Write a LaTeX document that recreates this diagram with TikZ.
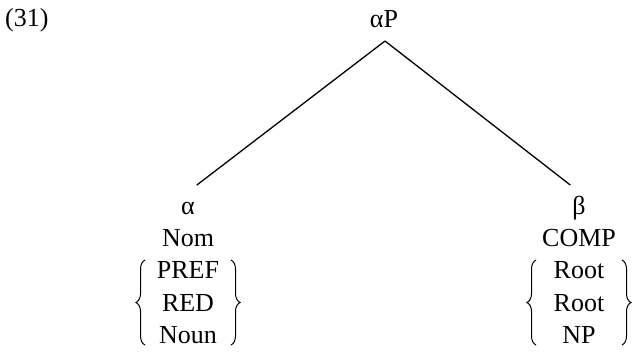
\documentclass[tikz,border=0pt]{standalone}
\usepackage{fontspec}
\setmainfont{Liberation Serif}
\usetikzlibrary{positioning, decorations.pathreplacing}

\begin{document}
\begin{tikzpicture}[
    x=1pt, y=-1pt,
    font=\fontsize{26}{31}\selectfont,
    lbl/.style={inner sep=0pt, anchor=base},
    row/.style={inner sep=0pt, text height=22pt, text depth=10pt},
    branch/.style={draw, line width=1.3pt, shorten >=11pt},
    setbrace/.style={draw, line width=1pt, decorate, decoration={brace, amplitude=9pt}}
]
\useasboundingbox (0,0) rectangle (639,353);

% example number
\node[lbl, anchor=base west] (num) at (5,27) {(31)};

% mother node
\node[lbl] (top) at (384,28) {αP};
\coordinate (apex) at (385,41);

% left daughter
\node[row, anchor=base] (alpha) at (188,214) {α};
\node[row, below=0pt of alpha] (nom) {Nom};
\node[row, below=0pt of nom] (pref) {PREF};
\node[row, below=0pt of pref] (red) {RED};
\node[row, below=0pt of red] (noun) {Noun};

% right daughter
\node[row, anchor=base] (beta) at (579,214) {β};
\node[row, below=0pt of beta] (comp) {COMP};
\node[row, below=0pt of comp] (root) {Root};
\node[row, below=0pt of root] (rootb) {Root};
\node[row, below=0pt of rootb] (np) {NP};

% braces round the sets
\draw[setbrace] (145,345) -- (145,260);
\draw[setbrace] (231,260) -- (231,345);
\draw[setbrace] (536,345) -- (536,260);
\draw[setbrace] (622,260) -- (622,345);

% branches
\draw[branch] (apex) -- (alpha.north);
\draw[branch] (apex) -- (beta.north);

\end{tikzpicture}
\end{document}
